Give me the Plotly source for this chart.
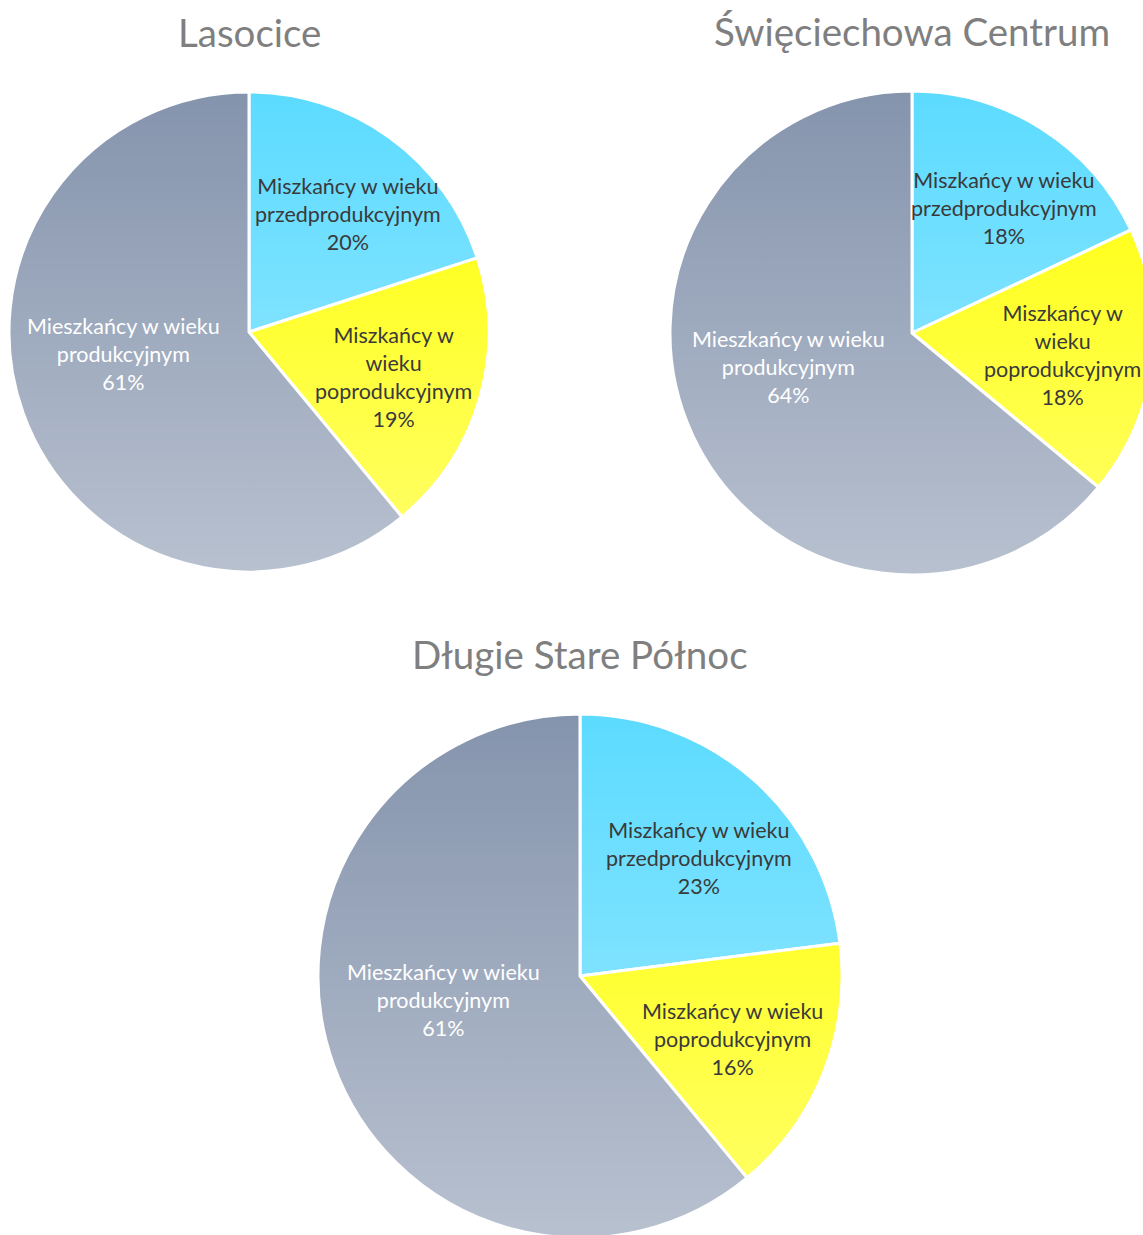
import math
import base64
import plotly.graph_objects as go

# ---- data ----
categories = [
    "Miszkańcy w wieku przedprodukcyjnym",
    "Miszkańcy w wieku poprodukcyjnym",
    "Mieszkańcy w wieku produkcyjnym",
]
titles = ["Lasocice", "Święciechowa Centrum", "Długie Stare Północ"]
values_lasocice = [20, 19, 61]
values_swieciechowa = [18, 18, 64]
values_dlugie = [23, 16, 61]

# label line-wrapping as in the original
wrap_lasocice = ["Miszkańcy w wieku<br>przedprodukcyjnym", "Miszkańcy w<br>wieku<br>poprodukcyjnym", "Mieszkańcy w wieku<br>produkcyjnym"]
wrap_swieciechowa = ["Miszkańcy w wieku<br>przedprodukcyjnym", "Miszkańcy w<br>wieku<br>poprodukcyjnym", "Mieszkańcy w wieku<br>produkcyjnym"]
wrap_dlugie = ["Miszkańcy w wieku<br>przedprodukcyjnym", "Miszkańcy w wieku<br>poprodukcyjnym", "Mieszkańcy w wieku<br>produkcyjnym"]

# ---- styles / layout ----
W, H = 1160, 1240
colors = ["#5cdbff", "#ffff00", "#8594ad"]       # top colours; a white vertical gradient lightens downwards
label_colors = ["#3a3a3a", "#3a3a3a", "#ffffff"]
label_radius = [0.64, 0.63, 0.53]
label_nudge = [4, 1, 10]
FONT = "Lato, Calibri, sans-serif"

pie_geom = [  # centre x, centre y (px from top), radius (px)
    (249, 332, 240),
    (912, 333, 242),
    (580, 976, 262),
]
all_values = [values_lasocice, values_swieciechowa, values_dlugie]
all_wraps = [wrap_lasocice, wrap_swieciechowa, wrap_dlugie]

grad_svg = (
    '<svg xmlns="http://www.w3.org/2000/svg" width="100" height="100" preserveAspectRatio="none">'
    '<defs><linearGradient id="g" x1="0" y1="0" x2="0" y2="1">'
    '<stop offset="0" stop-color="#ffffff" stop-opacity="0"/>'
    '<stop offset="1" stop-color="#ffffff" stop-opacity="0.42"/>'
    '</linearGradient></defs><rect width="100" height="100" fill="url(#g)"/></svg>'
)
grad_uri = "data:image/svg+xml;base64," + base64.b64encode(grad_svg.encode()).decode()

fig = go.Figure()
annotations = []
images = []
for title, vals, wraps, (cx, cy, r) in zip(titles, all_values, all_wraps, pie_geom):
    fig.add_trace(go.Pie(
        labels=categories, values=vals, sort=False, direction="clockwise", rotation=0,
        marker=dict(colors=colors, line=dict(color="white", width=3)),
        textinfo="none", hoverinfo="label+percent", showlegend=False,
        domain=dict(x=[(cx - r) / W, (cx + r) / W], y=[1 - (cy + r) / H, 1 - (cy - r) / H]),
    ))
    images.append(dict(
        source=grad_uri, xref="paper", yref="paper",
        x=(cx - r) / W, y=1 - (cy - r) / H, sizex=2 * r / W, sizey=2 * r / H,
        xanchor="left", yanchor="top", sizing="stretch", layer="above",
    ))
    total = sum(vals)
    cum = 0
    for i, v in enumerate(vals):
        mid = (cum + v / 2) / total * 360 + label_nudge[i]
        cum += v
        d = label_radius[i] * r
        px = cx + d * math.sin(math.radians(mid))
        py = cy - d * math.cos(math.radians(mid))
        pct = round(v / total * 100)
        annotations.append(dict(
            x=px / W, y=1 - py / H, xref="paper", yref="paper",
            text=f"{wraps[i]}<br>{pct}%", showarrow=False,
            xanchor="center", yanchor="middle", align="center",
            font=dict(family=FONT, size=21.5, color=label_colors[i]),
        ))
    annotations.append(dict(
        x=cx / W, y=1 - (cy - r - 60) / H, xref="paper", yref="paper",
        text=title, showarrow=False, xanchor="center", yanchor="middle",
        font=dict(family=FONT, size=38.5, color="#7f7f7f"),
    ))

fig.update_layout(
    width=W, height=H, margin=dict(l=0, r=0, t=0, b=0),
    paper_bgcolor="white", plot_bgcolor="white",
    annotations=annotations, images=images,
)

fig.write_html(
    "out.html",
    config={"displayModeBar": False},
    post_script="document.body.style.margin='0';document.body.style.overflow='hidden';",
)
